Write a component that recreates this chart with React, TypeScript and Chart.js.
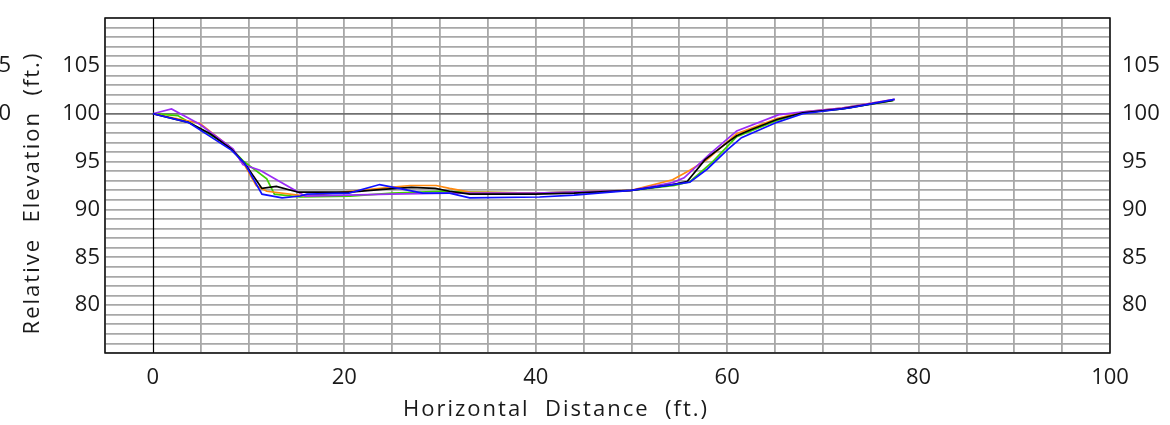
import React, { useEffect, useRef } from "react";
import { Chart, registerables } from "chart.js";

Chart.register(...registerables);

// ---- data ----
const blackX = [0, 3.7, 6, 8.2, 9.6, 11.4, 12.9, 15.2, 20.6, 24, 27, 29.5, 31, 33.1, 40, 44, 50, 54.3, 55.8, 57.7, 59.9, 61, 62.4, 65.2, 67.9, 72, 77.3];
const blackY = [100, 99.1, 97.9, 96.3, 94.8, 92.2, 92.4, 91.8, 91.8, 92.1, 92.3, 92.2, 91.9, 91.6, 91.6, 91.7, 92, 92.6, 92.9, 95.2, 96.9, 97.7, 98.3, 99.4, 100.1, 100.5, 101.4];

const orangeX = [0, 4.9, 8.2, 9.6, 10.8, 11.9, 16, 20.6, 24.8, 26.9, 29.6, 31, 33.1, 40, 50, 54.3, 56.1, 57.9, 61, 65.2, 68, 72, 77.5];
const orangeY = [100, 99.0, 96.4, 94.6, 92.5, 91.9, 91.4, 91.9, 92.3, 92.5, 92.5, 92.2, 91.8, 91.7, 92.0, 93.1, 94.1, 95.2, 97.9, 99.5, 100.2, 100.6, 101.5];

const greenX = [0, 2.6, 4.8, 7.9, 9.4, 11.9, 12.7, 15.4, 20.6, 25, 30, 33, 40, 50, 54.5, 56.1, 58.5, 61, 65.2, 68, 72, 77.4];
const greenY = [100, 99.8, 98.5, 96.7, 95.1, 93.2, 91.6, 91.3, 91.4, 91.7, 91.9, 91.8, 91.7, 92, 92.5, 92.9, 95.0, 97.6, 99.3, 100.1, 100.5, 101.4];

const purpleX = [0, 1.95, 4.9, 8.4, 9.4, 11.2, 15.9, 24.8, 31, 40, 50, 54.3, 55.5, 58.2, 61, 65.4, 68, 72, 77.5];
const purpleY = [100, 100.5, 98.9, 96.3, 94.7, 94.1, 91.4, 91.6, 91.7, 91.7, 92.0, 92.8, 93.3, 95.8, 98.2, 99.9, 100.2, 100.6, 101.5];

const blueX = [0, 3.7, 8.2, 9.6, 11.4, 13.5, 15.4, 16.1, 20.5, 23.7, 28.2, 31, 33.1, 40.4, 44, 50, 55.1, 56.1, 57.9, 60.1, 61.5, 65.2, 67.9, 72.8, 77.5];
const blueY = [100, 99.1, 96.2, 94.8, 91.6, 91.2, 91.4, 91.6, 91.7, 92.6, 91.7, 91.7, 91.2, 91.3, 91.5, 92.0, 92.7, 92.85, 94.2, 96.3, 97.5, 99.1, 100.0, 100.6, 101.5];

const xLabelValues = [0, 20, 40, 60, 80, 100];
const yLabelValues = [80, 85, 90, 95, 100, 105];
const xTitle = "Horizontal  Distance  (ft.)";
const yTitle = "Relative  Elevation  (ft.)";
const cutLabels = ["105", "100"];

const FONT = '"Open Sans", "DejaVu Sans", sans-serif';

const toPts = (xs: number[], ys: number[]) => xs.map((x, i) => ({ x, y: ys[i] }));

const decor = {
  id: "decor",
  beforeDraw(chart: any) {
    const { ctx, width, height } = chart;
    ctx.save();
    ctx.fillStyle = "#fff";
    ctx.fillRect(0, 0, width, height);
    ctx.restore();
  },
  beforeDatasetsDraw(chart: any) {
    const { ctx, chartArea: a, scales } = chart;
    const x0 = Math.round(scales.x.getPixelForValue(0)) + 0.5;
    ctx.save();
    ctx.strokeStyle = "#000";
    ctx.lineWidth = 1.2;
    ctx.beginPath();
    ctx.moveTo(x0, a.top);
    ctx.lineTo(x0, a.bottom);
    ctx.stroke();
    ctx.restore();
  },
  afterDraw(chart: any) {
    const { ctx, chartArea: a, scales } = chart;
    ctx.save();
    ctx.strokeStyle = "#111";
    ctx.lineWidth = 1.5;
    ctx.strokeRect(a.left, a.top, a.right - a.left, a.bottom - a.top);
    ctx.fillStyle = "#1a1a1a";
    ctx.font = `22px ${FONT}`;
    (ctx as any).letterSpacing = "2px";
    ctx.textAlign = "center";
    ctx.textBaseline = "middle";
    ctx.fillText(xTitle, 556, 410);
    ctx.save();
    ctx.translate(33, 193);
    ctx.rotate(-Math.PI / 2);
    ctx.fillText(yTitle, 0, 0);
    ctx.restore();
    // partially visible labels of a neighbouring axis at the very left edge
    ctx.textAlign = "right";
    (ctx as any).letterSpacing = "0px";
    ctx.fillText(cutLabels[0], 11, scales.y.getPixelForValue(105));
    ctx.fillText(cutLabels[1], 11, scales.y.getPixelForValue(100));
    ctx.restore();
  },
};

export default function App() {
  const ref = useRef<HTMLCanvasElement>(null);
  useEffect(() => {
    if (!ref.current) return;
    const lw = 1.7;
    const mk = (label: string, xs: number[], ys: number[], color: string) => ({
      label,
      data: toPts(xs, ys),
      borderColor: color,
      backgroundColor: color,
      borderWidth: lw,
      pointRadius: 0,
      tension: 0,
      fill: false,
    });
    const tickFont = { family: FONT, size: 22 };
    const vFit = (w: number) => (s: any) => {
      s.width = w;
      s.paddingTop = 0;
      s.paddingBottom = 0;
    };
    const chart = new Chart(ref.current, {
      type: "line",
      data: {
        datasets: [
          mk("blue", blueX, blueY, "#1010ff"),
          mk("black", blackX, blackY, "#000000"),
          mk("purple", purpleX, purpleY, "#9a2cf5"),
          mk("orange", orangeX, orangeY, "#ff8a10"),
          mk("green", greenX, greenY, "#3fd000"),
        ],
      },
      options: {
        animation: false,
        responsive: false,
        devicePixelRatio: 1,
        layout: { padding: { top: 18, left: 0, right: 0, bottom: 0 } },
        plugins: { legend: { display: false }, tooltip: { enabled: false } },
        scales: {
          x: {
            type: "linear",
            min: -5,
            max: 100,
            ticks: {
              stepSize: 5,
              autoSkip: false,
              maxRotation: 0,
              padding: 12,
              color: "#1a1a1a",
              font: tickFont,
              callback: (v: any) => (xLabelValues.includes(Number(v)) ? String(v) : ""),
            },
            grid: {
              drawTicks: false,
              color: (c: any) => (c.tick && c.tick.value === 0 ? "rgba(0,0,0,0)" : "#a8a8a8"),
              lineWidth: 1.8,
            },
            border: { display: false },
            afterFit: (s: any) => {
              s.height = 72;
              s.paddingLeft = 0;
              s.paddingRight = 0;
            },
          },
          y: {
            type: "linear",
            position: "left",
            min: 75,
            max: 110,
            ticks: {
              stepSize: 1,
              autoSkip: false,
              padding: 5,
              color: "#1a1a1a",
              font: tickFont,
              callback: (v: any) => (yLabelValues.includes(Number(v)) ? String(v) : ""),
            },
            grid: {
              drawTicks: false,
              color: (c: any) => (c.tick && c.tick.value === 100 ? "#707070" : "#a8a8a8"),
              lineWidth: 1.8,
            },
            border: { display: false },
            afterFit: vFit(105),
          },
          y2: {
            type: "linear",
            position: "right",
            min: 75,
            max: 110,
            ticks: {
              stepSize: 1,
              autoSkip: false,
              padding: 12,
              color: "#1a1a1a",
              font: tickFont,
              callback: (v: any) => (yLabelValues.includes(Number(v)) ? String(v) : ""),
            },
            grid: { display: false, drawTicks: false },
            border: { display: false },
            afterFit: vFit(60),
          },
        },
      },
      plugins: [decor],
    } as any);
    return () => chart.destroy();
  }, []);
  return (
    <div style={{ position: "absolute", left: 0, top: 0, width: 1170, height: 425, background: "#fff" }}>
      <canvas ref={ref} width={1170} height={425} style={{ display: "block", width: 1170, height: 425 }} />
    </div>
  );
}
